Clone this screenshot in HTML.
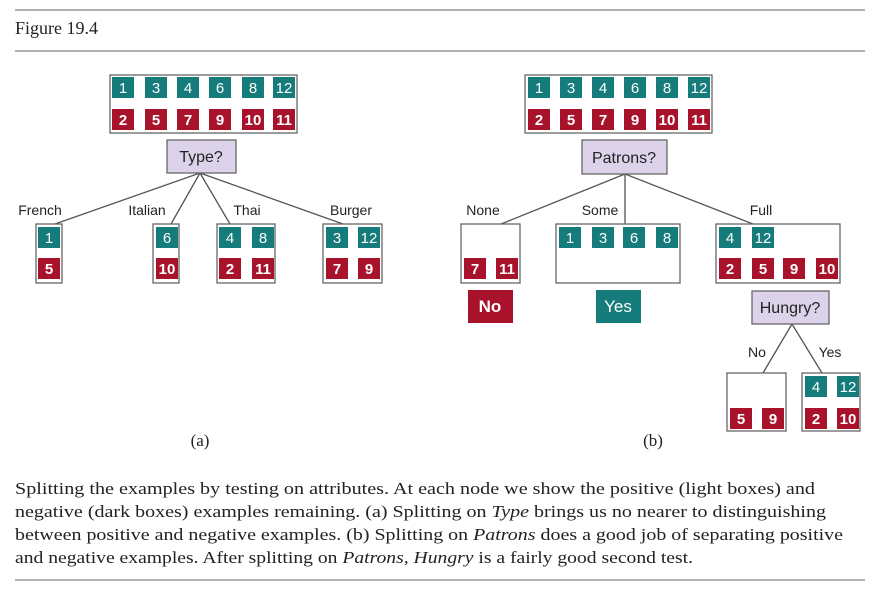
<!DOCTYPE html>
<html><head><meta charset="utf-8"><style>body{margin:0;background:#fff}svg{display:block}
.s{font-family:"Liberation Sans",sans-serif;font-size:15px;fill:#fff;text-anchor:middle}
.l{font-family:"Liberation Sans",sans-serif;font-size:14px;fill:#222;text-anchor:middle}
.q{font-family:"Liberation Sans",sans-serif;font-size:16px;fill:#222;text-anchor:middle}
.c{font-family:"Liberation Serif",serif;font-size:16.5px;fill:#222}
</style></head><body>
<svg width="880" height="596" viewBox="0 0 880 596" xmlns="http://www.w3.org/2000/svg">
<defs>
<g id="T"><rect width="22" height="21" fill="#167b7b"/></g>
<g id="R"><rect width="22" height="21" fill="#a8122b"/></g>
</defs>
<line x1="15" y1="10" x2="865" y2="10" stroke="#999" stroke-width="1.5"/>
<text x="15" y="34" class="c" style="font-size:18px">Figure 19.4</text>
<line x1="15" y1="51" x2="865" y2="51" stroke="#999" stroke-width="1.5"/>

<g stroke="#555" stroke-width="1.3" fill="none">
<line x1="200" y1="173" x2="55" y2="224"/><line x1="200" y1="173" x2="171" y2="224"/>
<line x1="200" y1="173" x2="230" y2="224"/><line x1="200" y1="173" x2="343" y2="224"/>
<line x1="625" y1="174" x2="501" y2="224"/><line x1="625" y1="174" x2="625" y2="224"/>
<line x1="625" y1="174" x2="753" y2="224"/>
<line x1="792" y1="324" x2="763" y2="373"/><line x1="792" y1="324" x2="822" y2="373"/>
</g>
<g fill="#fff" stroke="#666" stroke-width="1.3">
<rect x="110" y="75" width="187" height="58"/>
<rect x="36" y="224" width="26" height="59"/>
<rect x="153" y="224" width="26" height="59"/>
<rect x="217" y="224" width="58" height="59"/>
<rect x="323" y="224" width="59" height="59"/>
<rect x="525" y="75" width="187" height="58"/>
<rect x="461" y="224" width="59" height="59"/>
<rect x="556" y="224" width="124" height="59"/>
<rect x="716" y="224" width="124" height="59"/>
<rect x="727" y="373" width="59" height="58"/>
<rect x="802" y="373" width="58" height="58"/>
</g>
<g fill="#dcd3ea" stroke="#666" stroke-width="1.3">
<rect x="167" y="140" width="69" height="33"/>
<rect x="582" y="140" width="85" height="34"/>
<rect x="752" y="291" width="77" height="33"/>
</g>
<rect x="468" y="290" width="45" height="33" fill="#a8122b"/>
<rect x="596" y="290" width="45" height="33" fill="#167b7b"/>

<g>
<!-- squares: helper via use + text -->
<use href="#T" x="112" y="77"/><use href="#T" x="145" y="77"/><use href="#T" x="177" y="77"/><use href="#T" x="209" y="77"/><use href="#T" x="242" y="77"/><use href="#T" x="273" y="77"/>
<use href="#R" x="112" y="109"/><use href="#R" x="145" y="109"/><use href="#R" x="177" y="109"/><use href="#R" x="209" y="109"/><use href="#R" x="242" y="109"/><use href="#R" x="273" y="109"/>
<use href="#T" x="38" y="227"/><use href="#R" x="38" y="258"/>
<use href="#T" x="156" y="227"/><use href="#R" x="156" y="258"/>
<use href="#T" x="219" y="227"/><use href="#T" x="252" y="227"/><use href="#R" x="219" y="258"/><use href="#R" x="252" y="258"/>
<use href="#T" x="326" y="227"/><use href="#T" x="358" y="227"/><use href="#R" x="326" y="258"/><use href="#R" x="358" y="258"/>
<use href="#T" x="528" y="77"/><use href="#T" x="560" y="77"/><use href="#T" x="592" y="77"/><use href="#T" x="624" y="77"/><use href="#T" x="656" y="77"/><use href="#T" x="688" y="77"/>
<use href="#R" x="528" y="109"/><use href="#R" x="560" y="109"/><use href="#R" x="592" y="109"/><use href="#R" x="624" y="109"/><use href="#R" x="656" y="109"/><use href="#R" x="688" y="109"/>
<use href="#R" x="464" y="258"/><use href="#R" x="496" y="258"/>
<use href="#T" x="559" y="227"/><use href="#T" x="592" y="227"/><use href="#T" x="623" y="227"/><use href="#T" x="656" y="227"/>
<use href="#T" x="719" y="227"/><use href="#T" x="752" y="227"/>
<use href="#R" x="719" y="258"/><use href="#R" x="752" y="258"/><use href="#R" x="783" y="258"/><use href="#R" x="816" y="258"/>
<use href="#R" x="730" y="408"/><use href="#R" x="762" y="408"/>
<use href="#T" x="805" y="376"/><use href="#T" x="837" y="376"/><use href="#R" x="805" y="408"/><use href="#R" x="837" y="408"/>
</g>
<g class="s">
<text x="123" y="93">1</text><text x="156" y="93">3</text><text x="188" y="93">4</text><text x="220" y="93">6</text><text x="253" y="93">8</text><text x="284" y="93">12</text>
<g font-weight="bold"><text x="123" y="125">2</text><text x="156" y="125">5</text><text x="188" y="125">7</text><text x="220" y="125">9</text><text x="253" y="125">10</text><text x="284" y="125">11</text></g>
<text x="49" y="243">1</text><text x="49" y="274" font-weight="bold">5</text>
<text x="167" y="243">6</text><text x="167" y="274" font-weight="bold">10</text>
<text x="230" y="243">4</text><text x="263" y="243">8</text><text x="230" y="274" font-weight="bold">2</text><text x="263" y="274" font-weight="bold">11</text>
<text x="337" y="243">3</text><text x="369" y="243">12</text><text x="337" y="274" font-weight="bold">7</text><text x="369" y="274" font-weight="bold">9</text>
<text x="539" y="93">1</text><text x="571" y="93">3</text><text x="603" y="93">4</text><text x="635" y="93">6</text><text x="667" y="93">8</text><text x="699" y="93">12</text>
<g font-weight="bold"><text x="539" y="125">2</text><text x="571" y="125">5</text><text x="603" y="125">7</text><text x="635" y="125">9</text><text x="667" y="125">10</text><text x="699" y="125">11</text></g>
<text x="475" y="274" font-weight="bold">7</text><text x="507" y="274" font-weight="bold">11</text>
<text x="570" y="243">1</text><text x="603" y="243">3</text><text x="634" y="243">6</text><text x="667" y="243">8</text>
<text x="730" y="243">4</text><text x="763" y="243">12</text>
<g font-weight="bold"><text x="730" y="274">2</text><text x="763" y="274">5</text><text x="794" y="274">9</text><text x="827" y="274">10</text>
<text x="741" y="424">5</text><text x="773" y="424">9</text><text x="816" y="424">2</text><text x="848" y="424">10</text></g>
<text x="816" y="392">4</text><text x="848" y="392">12</text>
<text x="490" y="312" font-size="17" font-weight="bold">No</text>
<text x="618" y="312" font-size="17">Yes</text>
</g>
<g class="q">
<text x="201" y="162">Type?</text><text x="624" y="163">Patrons?</text><text x="790" y="313">Hungry?</text>
</g>
<g class="l">
<text x="40" y="215">French</text><text x="147" y="215">Italian</text><text x="247" y="215">Thai</text><text x="351" y="215">Burger</text>
<text x="483" y="215">None</text><text x="600" y="215">Some</text><text x="761" y="215">Full</text>
<text x="757" y="357">No</text><text x="830" y="357">Yes</text>
</g>
<text x="200" y="446" class="c" text-anchor="middle" style="font-size:17px">(a)</text>
<text x="653" y="446" class="c" text-anchor="middle" style="font-size:17px">(b)</text>

<text x="15" y="494" class="c" textLength="800" lengthAdjust="spacingAndGlyphs">Splitting the examples by testing on attributes. At each node we show the positive (light boxes) and</text>
<text x="15" y="517" class="c" textLength="811" lengthAdjust="spacingAndGlyphs">negative (dark boxes) examples remaining. (a) Splitting on <tspan font-style="italic">Type</tspan> brings us no nearer to distinguishing</text>
<text x="15" y="540" class="c" textLength="828" lengthAdjust="spacingAndGlyphs">between positive and negative examples. (b) Splitting on <tspan font-style="italic">Patrons</tspan> does a good job of separating positive</text>
<text x="15" y="563" class="c" textLength="678" lengthAdjust="spacingAndGlyphs">and negative examples. After splitting on <tspan font-style="italic">Patrons, Hungry</tspan> is a fairly good second test.</text>
<line x1="15" y1="580" x2="865" y2="580" stroke="#999" stroke-width="1.5"/>
</svg>
</body></html>
